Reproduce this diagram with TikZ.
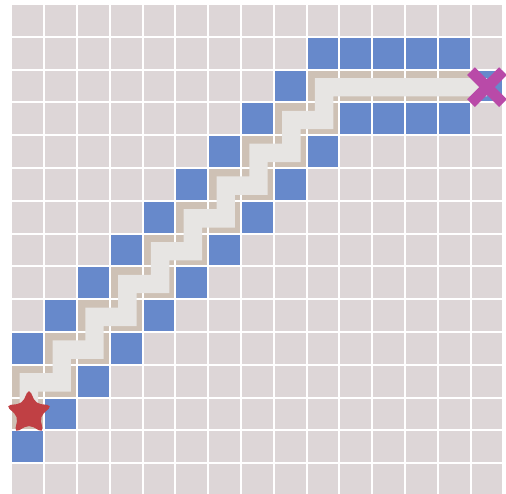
\documentclass[tikz,border=0pt]{standalone}
\usetikzlibrary{shapes.geometric}
\definecolor{cellbg}{RGB}{221,214,215}
\definecolor{wall}{RGB}{103,137,203}
\definecolor{trail}{RGB}{206,193,181}
\definecolor{route}{RGB}{231,229,227}
\definecolor{startc}{RGB}{192,64,68}
\definecolor{goalc}{RGB}{185,74,168}
\begin{document}
\begin{tikzpicture}[x=1pt,y=-1pt,
  cellbox/.style={fill=cellbg},
  wallbox/.style={fill=wall},
  trailbox/.style={fill=trail},
  routeline/.style={draw=route,line width=18.4pt,line join=miter,line cap=butt},
  startmark/.style={star,star points=5,star point ratio=2.1,fill=startc,draw=none,minimum size=49pt,inner sep=0pt,rounded corners=5pt},
  goalarm/.style={draw=goalc,line width=11pt,line cap=butt}]
\useasboundingbox (0,0) rectangle (506,493);
\fill[white] (0,0) rectangle (506,493);
\begin{scope}
\clip (0,0) rectangle (506,493);
\foreach \c in {0,...,14}{
  \foreach \r in {0,...,14}{
    \path[cellbox] ({12.3+32.8*\c},{5+32.8*\r}) rectangle ++(30.8,30.8);
  }
}
\foreach \c/\r in {9/1,10/1,11/1,12/1,13/1,8/2,14/2,7/3,10/3,11/3,12/3,13/3,6/4,9/4,5/5,8/5,4/6,7/6,3/7,6/7,2/8,5/8,1/9,4/9,0/10,3/10,2/11,1/12,0/13}{
  \path[wallbox] ({12.3+32.8*\c},{5+32.8*\r}) rectangle ++(30.8,30.8);
}
\foreach \c/\r in {0/12,0/11,1/11,1/10,2/10,2/9,3/9,3/8,4/8,4/7,5/7,5/6,6/6,6/5,7/5,7/4,8/4,8/3,9/3,9/2,10/2,11/2,12/2,13/2}{
  \path[trailbox] ({12.3+32.8*\c},{5+32.8*\r}) rectangle ++(30.8,30.8);
}
\end{scope}
\coordinate (s) at (28.9,415.2);
\coordinate (g) at (487,87.2);
\path[routeline] (s)
  -- ++(0,-32.8) -- ++(32.8,0) -- ++(0,-32.8) -- ++(32.8,0)
  -- ++(0,-32.8) -- ++(32.8,0) -- ++(0,-32.8) -- ++(32.8,0)
  -- ++(0,-32.8) -- ++(32.8,0) -- ++(0,-32.8) -- ++(32.8,0)
  -- ++(0,-32.8) -- ++(32.8,0) -- ++(0,-32.8) -- ++(32.8,0)
  -- ++(0,-32.8) -- ++(32.8,0) -- ++(0,-32.8) -- ++(32.8,0)
  -- (g);
\node[startmark] (start) at (29,413) {};
\begin{scope}
\clip (0,0) rectangle (506,493);
\path[goalarm] (g) ++(-16,-16) -- ++(32,32);
\path[goalarm] (g) ++(-16,16) -- ++(32,-32);
\end{scope}
\end{tikzpicture}
\end{document}
